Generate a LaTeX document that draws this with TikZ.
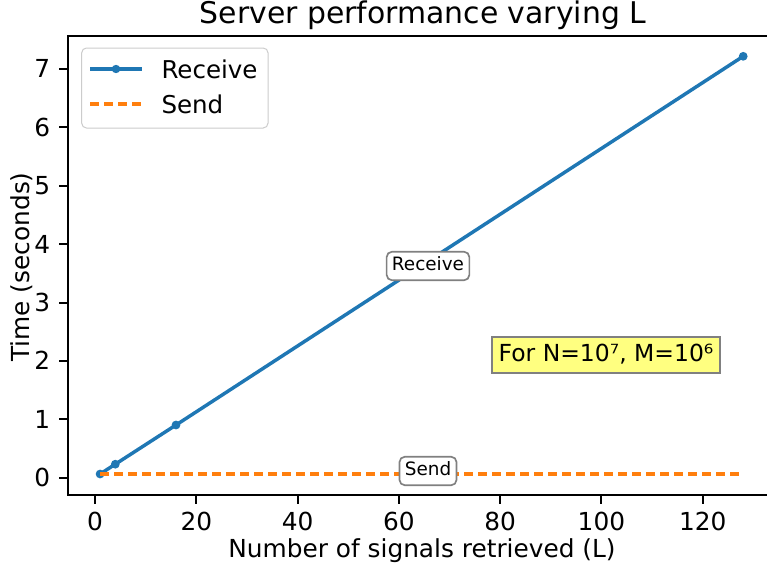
\documentclass[tikz,border=0pt]{standalone}
\usepackage{fontspec}
\setmainfont{DejaVu Sans}

\definecolor{rcvblue}{HTML}{1F77B4}
\definecolor{sndorange}{HTML}{FF7F0E}
\definecolor{notegray}{HTML}{808080}
\definecolor{legendgray}{HTML}{CCCCCC}
\definecolor{noteyellow}{HTML}{FFFF80}

\tikzset{every picture/.style={line width=0.75pt}}
\tikzset{
  spine/.style={line width=1.5pt},
  tickline/.style={line width=1.5pt},
  ticklabel/.style={inner sep=0pt, font=\fontsize{18.6}{22}\selectfont},
  axislabel/.style={inner sep=0pt, font=\fontsize{18.6}{22}\selectfont},
  titlelabel/.style={inner sep=0pt, font=\fontsize{22.4}{26}\selectfont},
  legendtext/.style={inner sep=0pt, font=\fontsize{18.4}{22}\selectfont},
  legendframe/.style={draw=legendgray, fill=white, fill opacity=0.8, rounded corners=3.6pt},
  rcvline/.style={draw=rcvblue, line width=2.6pt, line join=round},
  sndline/.style={draw=sndorange, line width=2.6pt, dash pattern=on 7pt off 3.5pt},
  rcvmark/.style={fill=rcvblue},
  notebox/.style={draw=notegray, fill=white, rounded corners=4pt, line width=1.25pt,
    inner xsep=4pt, inner ysep=4pt, text height=10.4pt, text depth=3pt, font=\fontsize{13.8}{16}\selectfont},
  yellowbox/.style={draw=notegray, fill=noteyellow, line width=1.4pt,
    inner xsep=5pt, inner ysep=5pt, text height=13.2pt, text depth=4pt, font=\fontsize{17.6}{21}\selectfont},
}

\begin{document}
\begin{tikzpicture}[x=0.75pt,y=0.75pt,yscale=-1,xscale=1]
\useasboundingbox (0,0) rectangle (767,564);

%Shape: Axes frame
\draw [spine] (767,36) -- (68,36) -- (68,495) -- (767,495) ;

%Ticks: x axis
\foreach \lx/\lab in {95/0,196.3/20,297.6/40,398.8/60,500.1/80,601.4/100,702.7/120}{
  \draw [tickline] (\lx,495) -- (\lx,503.7) ;
  \node [ticklabel, anchor=base] (xt\lab) at (\lx,530.5) {\lab};
}
%Ticks: y axis
\foreach \ly/\lab in {477.7/0,419.3/1,360.9/2,302.5/3,244.1/4,185.7/5,127.3/6,68.9/7}{
  \draw [tickline] (59.3,\ly) -- (68,\ly) ;
  \node [ticklabel, anchor=base east] (yt\lab) at (50.6,\ly+9) {\lab};
}

% Text Node
\node [titlelabel, anchor=base] (title) at (423,23) {Server performance varying L};
% Text Node
\node [axislabel, anchor=base] (xlabel) at (422,557) {Number of signals retrieved (L)};
% Text Node
\node [axislabel, anchor=base, rotate=90] (ylabel) at (29,267) {Time (seconds)};

%Straight Lines: Receive
\coordinate (rcv1) at (100.1,474) ;
\coordinate (rcv4) at (115.3,464.2) ;
\coordinate (rcv16) at (176,425) ;
\coordinate (rcv128) at (743.2,56.3) ;
\draw [rcvline] (rcv1) -- (rcv4) -- (rcv16) -- (rcv128) ;
\foreach \p in {rcv1,rcv4,rcv16,rcv128}{
  \fill [rcvmark] (\p) circle (4.4) ;
}
%Straight Lines: Send
\coordinate (snd1) at (100.1,474) ;
\coordinate (snd128) at (743.2,474) ;
\draw [sndline] (snd1) -- (snd128) ;

%Shape: Legend
\draw [legendframe] (81.7,48) rectangle (268,128) ;
\coordinate (lgr1) at (90,69) ;
\coordinate (lgr2) at (141.7,69) ;
\draw [rcvline] (lgr1) -- (lgr2) ;
\fill [rcvmark] (116,69) circle (4.2) ;
\node [legendtext, anchor=base west] (lgrtext) at (161,78) {Receive};
\coordinate (lgs1) at (90,104) ;
\coordinate (lgs2) at (141.7,104) ;
\draw [sndline] (lgs1) -- (lgs2) ;
\node [legendtext, anchor=base west] (lgstext) at (161,113) {Send};

% Text Node
\node [notebox] (rcvnote) at (428,266) {Receive};
% Text Node
\node [notebox] (sndnote) at (428,471) {Send};
% Text Node
\node [yellowbox] (paramnote) at (606,355) {For N=10⁷, M=10⁶};

\end{tikzpicture}
\end{document}
